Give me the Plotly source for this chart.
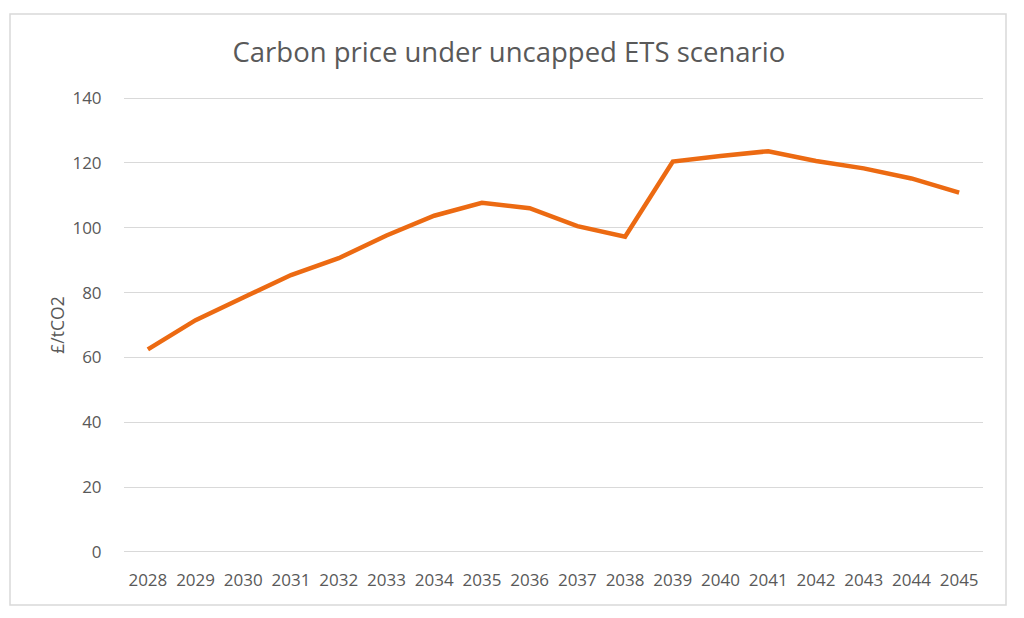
import plotly.graph_objects as go

years = [str(y) for y in range(2028, 2046)]
prices = [62.5, 71.5, 78.5, 85.4, 90.6, 97.6, 103.7, 107.7, 106.0, 100.5,
          97.2, 120.4, 122.1, 123.6, 120.6, 118.3, 115.2, 110.8]
title = "Carbon price under uncapped ETS scenario"
y_title = "£/tCO2"
y_ticks = [0, 20, 40, 60, 80, 100, 120, 140]

FONT = "Open Sans"
GREY = "#595959"

fig = go.Figure()
fig.add_trace(go.Scatter(
    x=list(range(len(years))), y=prices, mode="lines",
    line=dict(color="#EC6A12", width=4.5), hoverinfo="skip", showlegend=False,
))

fig.update_layout(
    width=1024, height=618,
    margin=dict(l=124, r=41, t=97, b=65),
    paper_bgcolor="white", plot_bgcolor="white",
    font=dict(family=FONT, color=GREY, size=17),
    title=dict(text=title, x=0.497, xanchor="center", y=1 - 52 / 618, yanchor="middle",
               font=dict(family=FONT, size=27.5, color=GREY)),
    xaxis=dict(
        tickmode="array", tickvals=list(range(len(years))), ticktext=years,
        range=[-0.5, len(years) - 0.5], showgrid=False, zeroline=False,
        showline=False, ticks="outside", ticklen=12, tickcolor="rgba(0,0,0,0)",
        tickfont=dict(family=FONT, size=17, color=GREY),
    ),
    yaxis=dict(
        range=[-0.31, 140.31], tickmode="array", tickvals=y_ticks,
        showgrid=True, gridcolor="#D9D9D9", gridwidth=1, zeroline=False,
        showline=False, ticks="outside", ticklen=18, tickcolor="rgba(0,0,0,0)",
        tickfont=dict(family=FONT, size=17, color=GREY),
        title=dict(text=y_title, font=dict(family=FONT, size=17.5, color=GREY), standoff=3),
    ),
    shapes=[dict(type="rect", xref="paper", yref="paper",
                 x0=-114 / 859, x1=1 + 23 / 859, y0=-52 / 456, y1=1 + 83 / 456,
                 line=dict(color="#D9D9D9", width=1.5), fillcolor="rgba(0,0,0,0)",
                 layer="below")],
)

fig.write_html("out.html")
